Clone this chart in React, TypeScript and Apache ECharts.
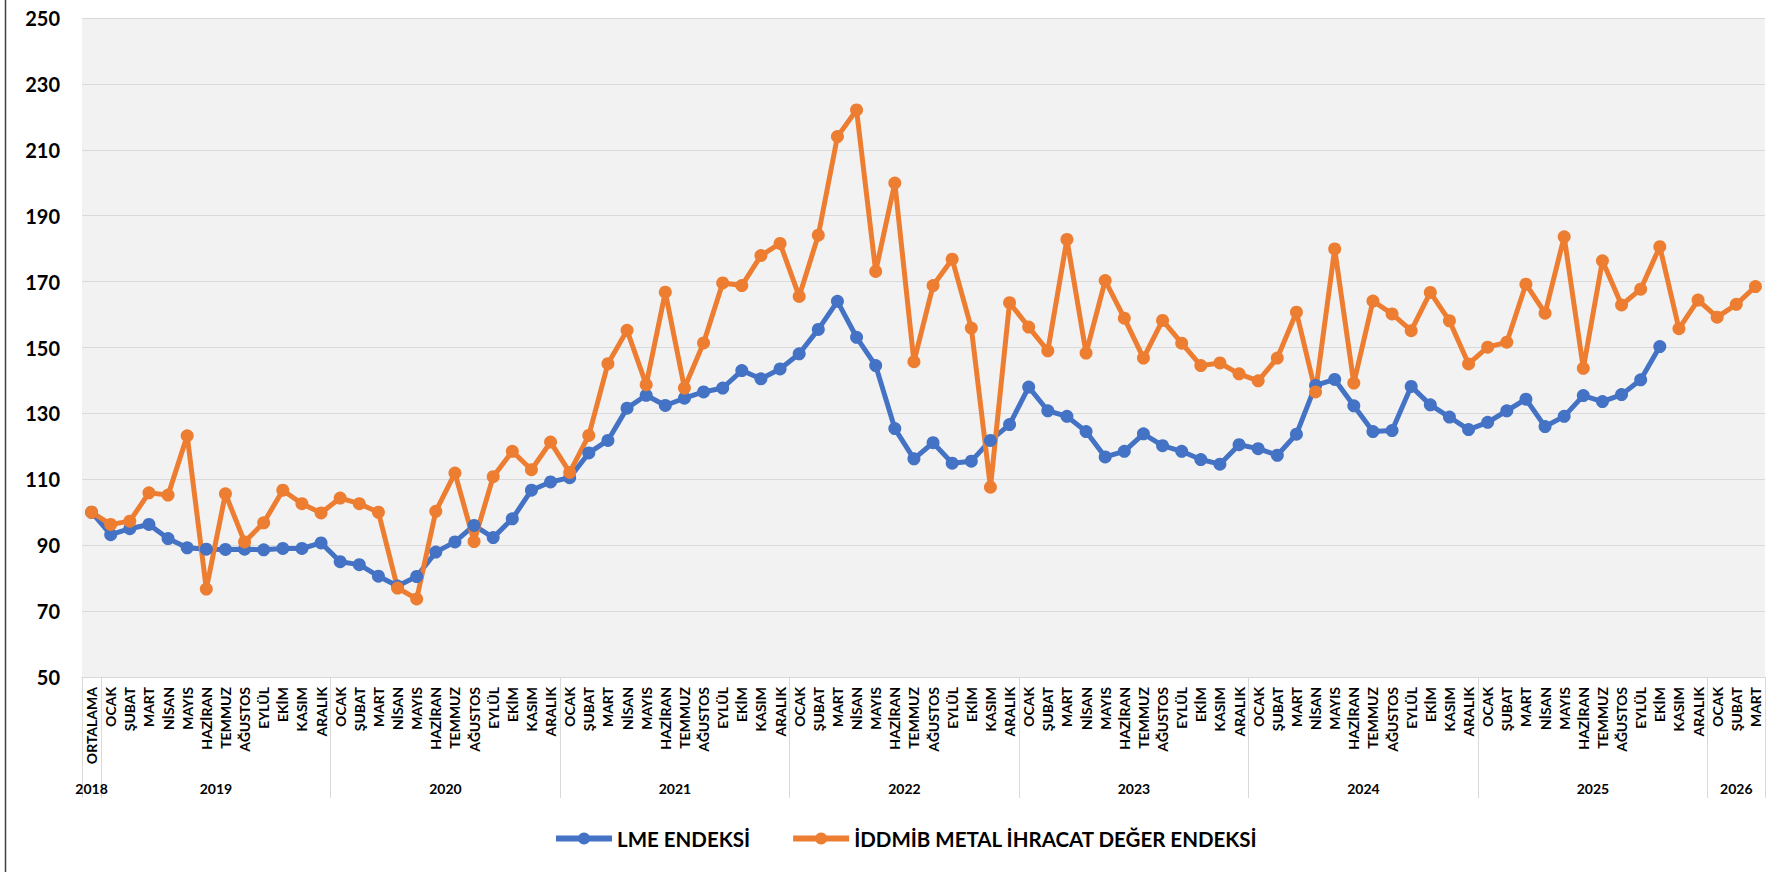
import React, { useEffect, useRef } from 'react';
import * as echarts from 'echarts';

// ---- Data ----
const firstLabel = 'ORTALAMA';
const monthNames = ['OCAK', 'ŞUBAT', 'MART', 'NİSAN', 'MAYIS', 'HAZİRAN', 'TEMMUZ', 'AĞUSTOS', 'EYLÜL', 'EKİM', 'KASIM', 'ARALIK'];
const yearLabels = ['2018', '2019', '2020', '2021', '2022', '2023', '2024', '2025', '2026'];
const yearSpans = [1, 12, 12, 12, 12, 12, 12, 12, 3];

const lmeValues = [
  100,
  93.2, 95.0, 96.3, 92.0, 89.2, 88.8, 88.7, 88.8, 88.6, 89.0, 89.0, 90.7,
  85.0, 84.1, 80.6, 77.6, 80.5, 87.9, 91.0, 96.0, 92.3, 98.0, 106.7, 109.2,
  110.5, 118.0, 121.8, 131.6, 135.5, 132.4, 134.6, 136.5, 137.7, 143.0, 140.5, 143.5,
  148.1, 155.5, 164.0, 153.1, 144.5, 125.4, 116.2, 121.1, 114.9, 115.5, 121.8, 126.6,
  138.0, 130.8, 129.1, 124.5, 116.8, 118.5, 123.8, 120.2, 118.5, 116.0, 114.6, 120.5,
  119.3, 117.3, 123.7, 138.5, 140.3, 132.3, 124.5, 124.8, 138.2, 132.6, 128.9, 125.1,
  127.3, 130.8, 134.3, 126.0, 129.1, 135.4, 133.6, 135.7, 140.2, 150.3,
];

const iddmibValues = [
  100,
  96.3, 97.3, 105.9, 105.2, 123.2, 76.7, 105.6, 91.0, 96.8, 106.7, 102.6, 99.8,
  104.3, 102.6, 100.0, 77.0, 73.7, 100.3, 111.9, 91.1, 110.8, 118.5, 112.9, 121.3,
  112.1, 123.3, 145.1, 155.2, 138.7, 166.8, 137.7, 151.4, 169.6, 168.8, 177.9, 181.6,
  165.5, 184.1, 214.0, 222.1, 173.1, 199.9, 145.7, 168.8, 176.8, 155.9, 107.6, 163.6,
  156.2, 149.0, 182.8, 148.3, 170.3, 158.9, 146.8, 158.2, 151.3, 144.5, 145.3, 142.0,
  139.9, 146.8, 160.7, 136.5, 179.9, 139.2, 164.1, 160.2, 155.1, 166.7, 158.1, 145.0,
  150.1, 151.6, 169.2, 160.4, 183.6, 143.7, 176.3, 162.9, 167.7, 180.6, 155.7, 164.4,
  159.2, 163.1, 168.5,
];

const seriesNames = ['LME ENDEKSİ', 'İDDMİB METAL İHRACAT DEĞER ENDEKSİ'];
const seriesColors = ['#4472C4', '#ED7D31'];
const yMin = 50;
const yMax = 250;
const yStep = 20;

// ---- Derived axis data ----
const categories: string[] = yearSpans.flatMap((n, k) => (k === 0 ? [firstLabel] : monthNames.slice(0, n)));
const halfCount = categories.length * 2;
const yearAxisData: string[] = Array(halfCount + 1).fill('');
const separators = new Set<number>([0]);
{
  let pos = 0;
  yearSpans.forEach((n, k) => {
    yearAxisData[pos + n] = yearLabels[k];
    pos += 2 * n;
    separators.add(pos);
  });
}

export default function App() {
  const ref = useRef<HTMLDivElement>(null);

  useEffect(() => {
    if (!ref.current) return;
    const chart = echarts.init(ref.current, undefined, { renderer: 'svg' });
    const font = 'Lato';
    chart.setOption({
      animation: false,
      backgroundColor: '#ffffff',
      textStyle: { fontFamily: font },
      grid: {
        left: 82,
        right: 24,
        top: 18,
        bottom: 195,
        show: true,
        backgroundColor: '#f2f2f2',
        borderWidth: 0,
      },
      legend: {
        left: 548,
        top: 823,
        itemWidth: 56,
        itemHeight: 15,
        itemGap: 40,
        data: seriesNames,
        lineStyle: { width: 6 },
        textStyle: { fontSize: 20.5, fontWeight: 'bold', color: '#000', fontFamily: font },
      },
      xAxis: [
        {
          type: 'category',
          data: categories,
          boundaryGap: true,
          position: 'bottom',
          axisLine: { lineStyle: { color: '#d9d9d9', width: 1 } },
          axisTick: { show: false },
          splitLine: { show: false },
          axisLabel: {
            interval: 0,
            rotate: 90,
            margin: 10,
            fontSize: 14,
            fontWeight: 'bold',
            color: '#000',
            fontFamily: font,
          },
        },
        {
          type: 'category',
          data: yearAxisData,
          boundaryGap: false,
          position: 'bottom',
          axisLine: { show: false },
          axisTick: {
            show: true,
            interval: (i: number) => separators.has(i),
            length: 121,
            lineStyle: { color: '#d9d9d9', width: 1 },
          },
          splitLine: { show: false },
          axisLabel: {
            interval: 0,
            margin: 104,
            fontSize: 14,
            fontWeight: 'bold',
            color: '#000',
            fontFamily: font,
          },
        },
      ],
      yAxis: {
        type: 'value',
        min: yMin,
        max: yMax,
        interval: yStep,
        axisLine: { show: false },
        axisTick: { show: false },
        splitLine: { lineStyle: { color: '#d9d9d9', width: 1 } },
        axisLabel: { margin: 22, fontSize: 20, fontWeight: 'bold', color: '#000', fontFamily: font },
      },
      series: [lmeValues, iddmibValues].map((vals, k) => ({
        name: seriesNames[k],
        type: 'line',
        xAxisIndex: 0,
        data: vals,
        symbol: 'circle',
        symbolSize: 13,
        lineStyle: { width: 5, color: seriesColors[k] },
        itemStyle: { color: seriesColors[k] },
      })),
      graphic: [
        {
          type: 'line',
          shape: { x1: 5.5, y1: 0, x2: 5.5, y2: 872 },
          style: { stroke: '#404040', lineWidth: 1.5 },
        },
      ],
    });
    return () => chart.dispose();
  }, []);

  return (
    <div
      ref={ref}
      style={{ position: 'absolute', left: 0, top: 0, width: 1789, height: 872 }}
    />
  );
}
